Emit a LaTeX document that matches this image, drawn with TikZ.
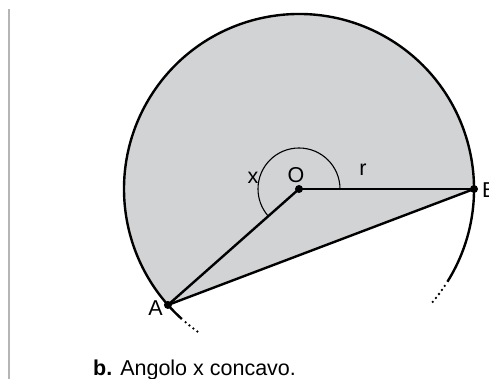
\documentclass[tikz,border=0pt]{standalone}
\usepackage{fontspec}
\setmainfont{Liberation Sans}
\usetikzlibrary{positioning,calc}
\definecolor{sectorgray}{HTML}{D1D3D4}
\definecolor{rulegray}{HTML}{B5B5B5}

\begin{document}
\begin{tikzpicture}[
  x=1pt, y=1pt,
  font=\fontsize{21.5}{24}\selectfont,
  rim/.style={line width=2.4pt},
  rimdots/.style={line width=2.6pt, dash pattern=on 0pt off 5pt, line cap=round},
  edge/.style={line width=2.4pt},
  anglearc/.style={line width=1.1pt},
  pt/.style={circle, fill=black, inner sep=0pt, minimum size=8pt},
  lbl/.style={inner sep=0pt}
]
  \useasboundingbox (0,0) rectangle (489,379);
  \draw[rulegray, line width=2.5pt] (9,0) -- (9,370);

  \coordinate (O) at (299,190);
  \coordinate (A) at ($(O)+(221.5:175pt)$);
  \coordinate (B) at ($(O)+(0:175pt)$);

  % major segment, shaded
  \fill[sectorgray] (B) arc (0:221.5:175pt) -- cycle;

  % the circle, running out in dots past A and B
  \draw[rim] ($(O)+(-32:175pt)$) arc (-32:228:175pt);
  \draw[rimdots] ($(O)+(-33.6:175pt)$) arc (-33.6:-41:175pt);
  \draw[rimdots] ($(O)+(229.6:175pt)$) arc (229.6:236:175pt);

  \draw[edge] (O) -- (A);
  \draw[edge] (O) -- (B);
  \draw[edge] (A) -- (B);
  \draw[anglearc] ($(O)+(0:41pt)$) arc (0:221.5:41pt);

  \node[pt] (dotO) at (O) {};
  \node[pt] (dotA) at (A) {};
  \node[pt] (dotB) at (B) {};

  \node[lbl] (labO) at (296,203.5) {O};
  \node[lbl] (labA) at (155.5,70.5) {A};
  \node[lbl, anchor=west] (labB) at (482,189) {B};
  \node[lbl] (labx) at (253,201) {x};
  \node[lbl] (labr) at (363,209) {r};

  \node[lbl, anchor=base west] (caption) at (93,3)
    {\textbf{b.} Angolo x concavo.};
\end{tikzpicture}
\end{document}
